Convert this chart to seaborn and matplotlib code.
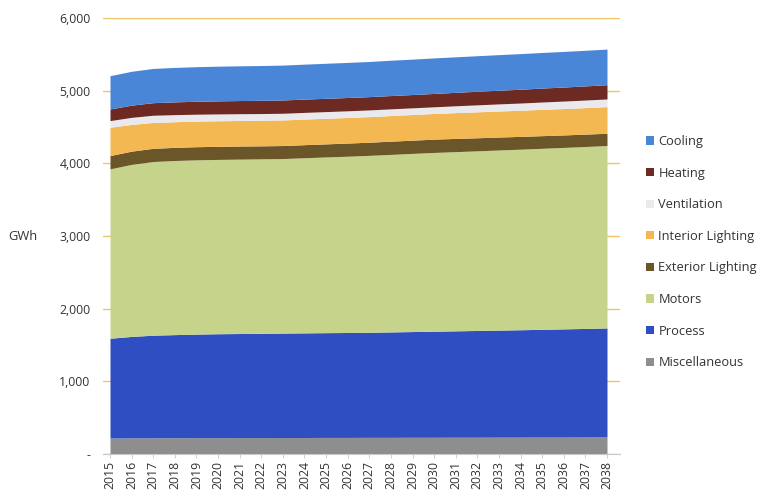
import numpy as np
import pandas as pd
import matplotlib
matplotlib.use("Agg")
import matplotlib.pyplot as plt
from matplotlib.patches import Patch
from matplotlib.ticker import FuncFormatter
import seaborn as sns

years = list(range(2015, 2039))

miscellaneous = [220, 222, 223, 224, 225, 225, 226, 226, 227, 227, 228, 228,
                 229, 229, 230, 230, 231, 231, 232, 232, 233, 233, 234, 235]
process = [1373, 1396, 1412, 1419, 1425, 1430, 1432, 1435, 1437, 1440, 1442, 1444,
           1446, 1451, 1455, 1460, 1464, 1469, 1473, 1478, 1483, 1489, 1494, 1500]
motors = [2331, 2368, 2390, 2396, 2398, 2399, 2400, 2401, 2402, 2410, 2418, 2426,
          2435, 2443, 2452, 2460, 2466, 2472, 2479, 2485, 2491, 2497, 2504, 2510]
exterior_lighting = [183, 182, 182, 181, 181, 180, 180, 179, 179, 180, 180, 181,
                     181, 182, 182, 183, 182, 180, 178, 176, 174, 172, 170, 169]
interior_lighting = [389, 368, 356, 353, 352, 352, 352, 352, 352, 352, 352, 352,
                     352, 353, 353, 353, 355, 357, 358, 360, 362, 363, 365, 366]
ventilation = [92, 97, 99, 97, 95, 94, 93, 92, 92, 92, 92, 92,
               92, 92, 92, 92, 94, 96, 98, 99, 101, 103, 104, 106]
heating = [160, 168, 173, 176, 178, 180, 181, 182, 183, 183, 183, 183,
           183, 183, 183, 184, 185, 187, 188, 190, 192, 193, 195, 196]
cooling = [458, 466, 471, 474, 476, 477, 478, 479, 480, 481, 482, 483,
           484, 486, 487, 489, 489, 489, 490, 490, 490, 490, 490, 490]

end_uses = ["Miscellaneous", "Process", "Motors", "Exterior Lighting",
            "Interior Lighting", "Ventilation", "Heating", "Cooling"]
colors = ["#8e8e8e", "#2f4ec2", "#c5d48a", "#6a5628",
          "#f3b852", "#e9e9ee", "#6c2a22", "#4a86d8"]

df = pd.DataFrame({
    "Miscellaneous": miscellaneous,
    "Process": process,
    "Motors": motors,
    "Exterior Lighting": exterior_lighting,
    "Interior Lighting": interior_lighting,
    "Ventilation": ventilation,
    "Heating": heating,
    "Cooling": cooling,
}, index=years)

sns.set_theme(style="white")
plt.rcParams["font.family"] = ["Open Sans", "DejaVu Sans"]

fig = plt.figure(figsize=(7.6, 4.96), dpi=100)
ax = fig.add_axes([103 / 760, 42 / 496, 517 / 760, 436 / 496])

ax.stackplot(df.index, [df[c].values for c in end_uses],
             colors=colors, linewidth=0, zorder=2)

ax.set_xlim(2015 - 7 / 21.6, 2038 + 13 / 21.6)
ax.set_ylim(0, 6000)
ax.set_yticks(range(0, 6001, 1000))
ax.yaxis.set_major_formatter(FuncFormatter(lambda v, p: "-" if v == 0 else f"{v:,.0f}"))
ax.set_xticks(years)
ax.set_xticklabels([str(y) for y in years], rotation=90)

ax.set_axisbelow(True)
ax.yaxis.grid(True, color="#f0c568", linewidth=1.0)
ax.xaxis.grid(False)
for side in ["top", "right", "left"]:
    ax.spines[side].set_visible(False)
ax.spines["bottom"].set_color("#c8c8c8")
ax.spines["bottom"].set_linewidth(0.8)

ax.tick_params(axis="y", length=0, pad=9, labelsize=8.8, labelcolor="#333333")
ax.tick_params(axis="x", length=3, width=0.6, color="#c8c8c8", pad=2,
               labelsize=8.8, labelcolor="#333333", bottom=True)

fig.text(8 / 760, 1 - 237 / 496, "GWh", fontsize=9.3, color="#333333", va="center", ha="left")

handles = [Patch(facecolor=colors[i], edgecolor="none", label=end_uses[i])
           for i in reversed(range(len(end_uses)))]
leg = ax.legend(handles=handles, loc="upper left",
                bbox_to_anchor=(646 / 760, 1 - 135 / 496), bbox_transform=fig.transFigure,
                frameon=False, fontsize=9.3, labelspacing=1.44,
                handlelength=0.6, handleheight=0.6, handletextpad=0.35,
                borderaxespad=0, borderpad=0)
for t in leg.get_texts():
    t.set_color("#333333")

fig.savefig("out.png", dpi=100)
